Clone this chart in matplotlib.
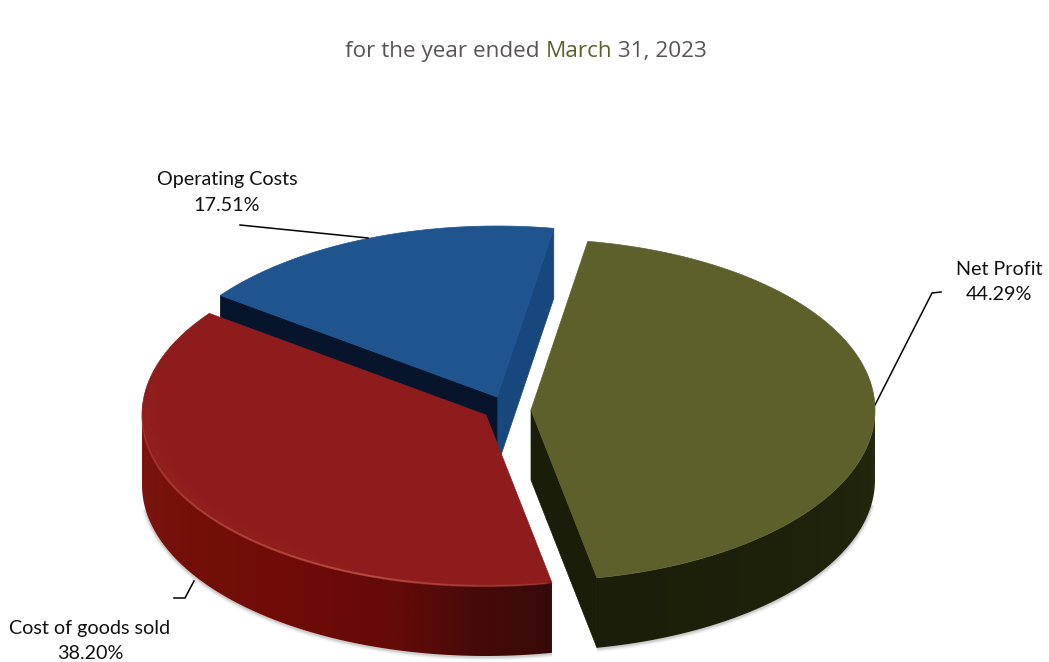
import numpy as np
import matplotlib
matplotlib.use("Agg")
import matplotlib.pyplot as plt
from matplotlib.collections import LineCollection
from matplotlib.colors import to_rgb
from matplotlib.patches import Polygon

# Share of sales for the year
Categories = ["Net Profit", "Cost of goods sold", "Operating Costs"]
Shares = [44.29, 38.20, 17.51]

TopColors = ["#5d602a", "#8e1c1c", "#20548f"]
TitleParts = ["for the year ended ", "March", " 31, 2023"]
TitleColors = ["#595454", "#5d602a", "#595454"]

# Ellipse set up, everything is in pixels with y pointing down
RX, RY, DEPTH = 344.0, 171.0, 70.0
StartAngle = 80.5
Centers = [(531, 410), (486, 415), (497, 397)]

Angles = StartAngle - np.concatenate(([0], np.cumsum(Shares))) * 3.6


def rim(cx, cy, t, drop=0.0, scale=1.0):
    r = np.radians(t)
    return np.column_stack((cx + scale * RX * np.cos(r), cy - scale * RY * np.sin(r) + drop))


def blend(t, stops, colors):
    rgb = np.array([to_rgb(c) for c in colors])
    return np.column_stack([np.interp(t, stops, rgb[:, i]) for i in range(3)])


def outer_wall(ax, cx, cy, t0, t1, stops, colors, z):
    # Front half of the rim only. Shaded by a gradient image clipped to the wall outline
    lo, hi = max(min(t0, t1), -180), min(max(t0, t1), 0)
    t = np.linspace(lo, hi, 400)
    a, b = rim(cx, cy, t), rim(cx, cy, t, DEPTH)
    outline = np.vstack((a, b[::-1]))
    # soft edge under the wall, kept off the far ends so it doesn't poke out sideways
    soft = rim(cx, cy, np.linspace(max(lo, -172), min(hi, -8), 300), DEPTH + 1)
    for w, al in [(5, .05), (3, .08), (1.5, .12)]:
        ax.plot(soft[:, 0], soft[:, 1], color="#303030", alpha=al, lw=w, zorder=z - .5, solid_capstyle="butt")
    xs = np.linspace(outline[:, 0].min(), outline[:, 0].max(), 500)
    ts = -np.degrees(np.arccos(np.clip((xs - cx) / RX, -1, 1)))
    grad = blend(ts, stops, colors)[np.newaxis, :, :]
    im = ax.imshow(grad, extent=(xs[0], xs[-1], outline[:, 1].max(), outline[:, 1].min()),
                   aspect="auto", zorder=z, interpolation="bilinear")
    im.set_clip_path(Polygon(outline, closed=True, transform=ax.transData))


def top_face(cx, cy, t0, t1, color, z):
    arc = rim(cx, cy, np.linspace(t0, t1, 300))
    ax.fill(np.r_[cx, arc[:, 0]], np.r_[cy, arc[:, 1]], facecolor=color, edgecolor=color, lw=0.5, zorder=z)


def faded_arc(pts, t, stops, alphas, rgb, lw, z):
    segs = np.stack((pts[:-1], pts[1:]), axis=1)
    al = np.interp(t[:-1], stops, alphas)
    ax.add_collection(LineCollection(segs, colors=[(*rgb, a) for a in al], linewidths=lw,
                                     capstyle="butt", zorder=z))


fig = plt.figure(figsize=(10.49, 6.62), dpi=100)
ax = fig.add_axes([0, 0, 1, 1])

# Operating costs slice, at the back
cx, cy = Centers[2]
t0, t1 = Angles[2], Angles[3]
p_left, p_right = rim(cx, cy, [t0])[0], rim(cx, cy, [t1])[0]
ax.fill([cx, p_right[0], p_right[0], cx], [cy, p_right[1], p_right[1] + DEPTH, cy + DEPTH],
        color="#17477c", lw=0.5, zorder=1)
ax.fill([cx, p_left[0], p_left[0], cx], [cy, p_left[1], p_left[1] + DEPTH, cy + DEPTH],
        color="#06152b", lw=0.5, zorder=2)
top_face(cx, cy, t0, t1, TopColors[2], 3)

# Cost of goods sold slice
cx, cy = Centers[1]
t0, t1 = Angles[1], Angles[2]
outer_wall(ax, cx, cy, t0, t1, [-180, -150, -125, -105, -92, -79],
           ["#7d1613", "#741009", "#700b08", "#640a07", "#470a0a", "#370909"], 5)
top_face(cx, cy, t0, t1, TopColors[1], 6)
# lit bevel along the front of the rim, with a wider faint band inside it
for s, a, lw in [(.985, .05, 5), (.975, .04, 9)]:
    t = np.linspace(-205, -80, 240)
    faded_arc(rim(cx, cy, t, scale=s), t, [-205, -170, -130, -95], [0, a, a * .6, 0], (.75, .33, .28), lw, 6.5)
t = np.linspace(-180, -80, 200)
faded_arc(rim(cx, cy, t), t, [-180, -150, -110, -80], [.15, .5, .8, .25], (.75, .33, .28), 1.6, 7)

# Net profit slice, pulled out to the right
cx, cy = Centers[0]
t0, t1 = Angles[0], Angles[1]
p_end = rim(cx, cy, [t1])[0]
outer_wall(ax, cx, cy, t0, t1, [-80, -40, -10, 0],
           ["#1b1f09", "#1e220b", "#23260f", "#2c2e14"], 9)
ax.fill([cx, p_end[0], p_end[0], cx], [cy, p_end[1], p_end[1] + DEPTH, cy + DEPTH],
        color="#1a1e08", lw=0.5, zorder=10)
top_face(cx, cy, t0, t1, TopColors[0], 11)

ax.set_xlim(0, 1049)
ax.set_ylim(662, 0)
ax.axis("off")

# Leader lines
ax.plot([240, 368], [225, 238], color="black", lw=1.1, zorder=4)
ax.plot([941, 932, 875], [292, 293, 405], color="black", lw=1.1, zorder=4)
ax.plot([174, 185, 194], [598, 598, 581], color="black", lw=1.1, zorder=4)

# Labels
LabelPos = [(999, 282), (90, 641), (227, 192.5)]
for name, share, (x, y) in zip(Categories, Shares, LabelPos):
    ax.text(x, y, f"{name}\n{share:.2f}%", ha="center", va="center", fontsize=14.2,
            family="Lato", color="#111111", linespacing=1.6, zorder=12)

# Title is three runs of text, laid end to end on one baseline
fig.canvas.draw()
rend = fig.canvas.get_renderer()
x = 345.0
for part, col in zip(TitleParts, TitleColors):
    ax.text(x, 57, part, ha="left", va="baseline", fontsize=16.2, family="Open Sans", color=col)
    bb = ax.text(0, 0, part.replace(" ", "."), fontsize=16.2, family="Open Sans")
    w = bb.get_window_extent(rend).width
    bb.remove()
    x += w

fig.savefig("out.png", dpi=100)
